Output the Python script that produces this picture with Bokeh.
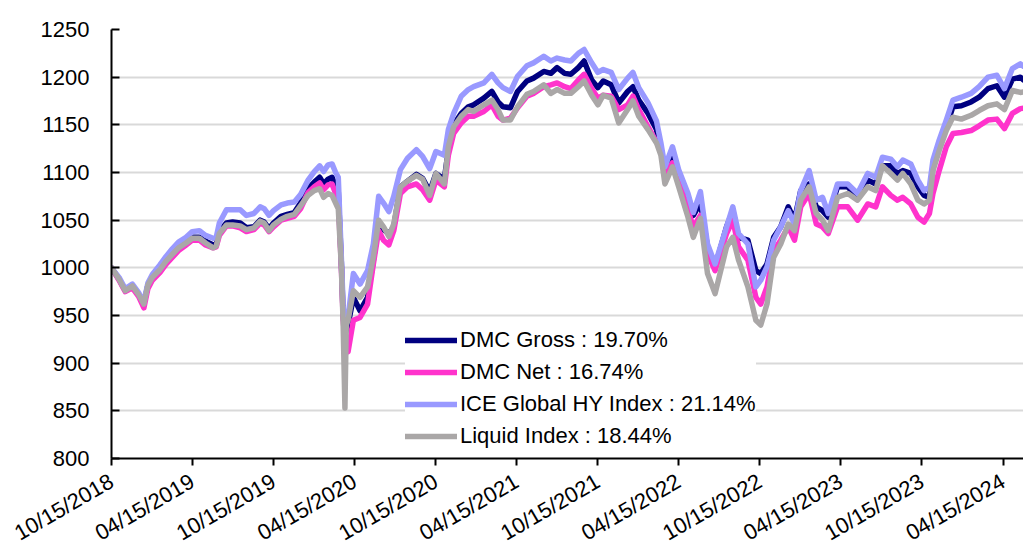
import math
import pandas as pd
from bokeh.plotting import figure
from bokeh.models import FixedTicker, Legend, LegendItem, Range1d
from bokeh.embed import file_html
from bokeh.resources import INLINE

dates = [
    "2018-10-15", "2018-11-01", "2018-11-15", "2018-12-01", "2018-12-15", "2018-12-27",
    "2019-01-05", "2019-01-15", "2019-02-01", "2019-02-15", "2019-03-01", "2019-03-15",
    "2019-04-01", "2019-04-15", "2019-05-01", "2019-05-15", "2019-06-01", "2019-06-08",
    "2019-06-15", "2019-07-01", "2019-07-15", "2019-08-01", "2019-08-15", "2019-09-01",
    "2019-09-15", "2019-09-24", "2019-10-05", "2019-10-15", "2019-11-01", "2019-11-15",
    "2019-12-01", "2019-12-15", "2020-01-01", "2020-01-15", "2020-01-27", "2020-02-05",
    "2020-02-15", "2020-02-24", "2020-03-03", "2020-03-09", "2020-03-16", "2020-03-20",
    "2020-03-24", "2020-03-27", "2020-03-31", "2020-04-12", "2020-04-27", "2020-05-14",
    "2020-05-27", "2020-06-08", "2020-06-19", "2020-07-01", "2020-07-12", "2020-07-27",
    "2020-08-12", "2020-09-01", "2020-09-15", "2020-10-01", "2020-10-15", "2020-11-03",
    "2020-11-12", "2020-11-24", "2020-12-11", "2020-12-27", "2021-01-08", "2021-01-31",
    "2021-02-18", "2021-03-04", "2021-03-15", "2021-04-01", "2021-04-17", "2021-05-08",
    "2021-05-23", "2021-06-15", "2021-07-01", "2021-07-15", "2021-08-01", "2021-08-15",
    "2021-09-01", "2021-09-14", "2021-10-01", "2021-10-15", "2021-10-27", "2021-11-14",
    "2021-12-01", "2021-12-21", "2022-01-02", "2022-01-15", "2022-02-05", "2022-02-24",
    "2022-03-06", "2022-03-15", "2022-04-01", "2022-04-15", "2022-05-06", "2022-05-18",
    "2022-06-03", "2022-06-19", "2022-07-06", "2022-08-01", "2022-08-15", "2022-08-28",
    "2022-09-18", "2022-10-06", "2022-10-17", "2022-10-31", "2022-11-15", "2022-12-01",
    "2022-12-18", "2023-01-01", "2023-01-15", "2023-02-03", "2023-02-19", "2023-03-05",
    "2023-03-18", "2023-04-08", "2023-05-01", "2023-05-23", "2023-06-15", "2023-07-03",
    "2023-07-18", "2023-08-06", "2023-08-21", "2023-09-02", "2023-09-20", "2023-10-06",
    "2023-10-20", "2023-11-01", "2023-11-09", "2023-11-23", "2023-12-09", "2023-12-24",
    "2024-01-12", "2024-02-03", "2024-02-21", "2024-03-12", "2024-04-01", "2024-04-18",
    "2024-05-06", "2024-05-24", "2024-05-31",
]

dmc_gross = [
    1000, 988, 976, 981, 972, 962, 982, 990, 998, 1007, 1015, 1021,
    1027, 1032, 1032, 1028, 1024, 1025, 1038, 1047, 1048, 1047, 1042, 1043,
    1050, 1048, 1041, 1047, 1054, 1056, 1058, 1068, 1083, 1090, 1095, 1088,
    1093, 1095, 1085, 1080, 1005, 950, 930, 935, 940, 969, 955, 969,
    1008, 1046, 1040, 1036, 1043, 1085, 1091, 1098, 1094, 1080, 1099, 1093,
    1124, 1150, 1162, 1169, 1171, 1178, 1185, 1174, 1169, 1168, 1185, 1196,
    1199, 1206, 1204, 1210, 1204, 1203, 1210, 1217, 1197, 1189, 1196, 1192,
    1173, 1185, 1190, 1176, 1162, 1145, 1124, 1103, 1120, 1096, 1075, 1055,
    1068, 1022, 1001, 1043, 1060, 1032, 1029, 997, 994, 1004, 1032, 1043,
    1064, 1050, 1081, 1088, 1064, 1060, 1053, 1085, 1085, 1074, 1092, 1088,
    1107, 1107, 1099, 1102, 1099, 1085, 1076, 1074, 1106, 1127, 1148, 1169,
    1170, 1174, 1179, 1188, 1191, 1179, 1198, 1200, 1197.0,
]

dmc_net = [
    1000, 987, 975, 979, 970, 958, 978, 987, 995, 1004, 1011, 1018,
    1024, 1029, 1029, 1024, 1021, 1022, 1034, 1044, 1044, 1042, 1038, 1040,
    1047, 1045, 1038, 1043, 1050, 1052, 1054, 1062, 1079, 1085, 1089, 1082,
    1087, 1088, 1078, 1073, 1000, 945, 925, 915, 912, 945, 948, 962,
    1004, 1039, 1029, 1024, 1039, 1078, 1085, 1088, 1082, 1071, 1092, 1085,
    1118, 1141, 1152, 1159, 1159, 1164, 1171, 1159, 1155, 1157, 1168, 1180,
    1183, 1190, 1192, 1194, 1190, 1188, 1197, 1203, 1188, 1178, 1181, 1180,
    1166, 1171, 1180, 1166, 1148, 1132, 1125, 1099, 1110, 1092, 1060, 1043,
    1055, 1015, 997, 1036, 1050, 1022, 1008, 969, 962, 980, 1018, 1029,
    1043, 1029, 1064, 1078, 1046, 1043, 1036, 1064, 1064, 1050, 1067, 1064,
    1085, 1076, 1071, 1074, 1067, 1053, 1048, 1057, 1078, 1102, 1127, 1141,
    1142, 1144, 1149, 1155, 1156, 1146, 1162, 1167, 1167.4,
]

ice_global_hy = [
    1000, 990, 978, 983, 974, 964, 984, 993, 1003, 1012, 1020, 1027,
    1032, 1038, 1039, 1034, 1031, 1032, 1047, 1061, 1061, 1061, 1055, 1057,
    1064, 1062, 1055, 1060, 1066, 1068, 1069, 1077, 1092, 1101, 1107, 1101,
    1108, 1109, 1100, 1095, 1010, 960, 935, 942, 948, 994, 983, 997,
    1025, 1075, 1068, 1059, 1075, 1103, 1115, 1124, 1117, 1104, 1122, 1118,
    1145, 1162, 1180, 1187, 1190, 1194, 1203, 1194, 1189, 1185, 1201, 1212,
    1215, 1222, 1217, 1220, 1218, 1217, 1225, 1229, 1215, 1205, 1208, 1205,
    1187, 1199, 1205, 1189, 1173, 1154, 1131, 1106, 1127, 1103, 1078, 1058,
    1080, 1025, 1004, 1043, 1064, 1036, 1025, 980, 987, 1001, 1029, 1043,
    1060, 1046, 1081, 1102, 1071, 1074, 1057, 1088, 1088, 1078, 1099, 1095,
    1116, 1114, 1106, 1113, 1109, 1092, 1081, 1085, 1113, 1134, 1155, 1176,
    1179, 1183, 1190, 1200, 1202, 1188, 1209, 1214, 1211.4,
]

liquid_index = [
    1000, 988, 976, 981, 972, 962, 982, 990, 998, 1007, 1014, 1021,
    1026, 1031, 1031, 1026, 1021, 1023, 1036, 1045, 1045, 1044, 1040, 1042,
    1049, 1047, 1039, 1045, 1051, 1054, 1056, 1065, 1076, 1081, 1083, 1074,
    1078, 1076, 1068, 1062, 1000, 940, 853, 940, 945, 976, 969, 980,
    1011, 1050, 1043, 1033, 1046, 1085, 1091, 1097, 1093, 1076, 1099, 1088,
    1127, 1148, 1159, 1166, 1164, 1171, 1176, 1166, 1155, 1155, 1169, 1182,
    1185, 1192, 1183, 1187, 1183, 1183, 1190, 1196, 1181, 1171, 1181, 1178,
    1152, 1166, 1175, 1159, 1145, 1131, 1118, 1088, 1106, 1085, 1053, 1032,
    1052, 994, 973, 1022, 1032, 1008, 980, 945, 940, 962, 1011, 1025,
    1046, 1039, 1071, 1085, 1057, 1050, 1039, 1074, 1078, 1071, 1085, 1081,
    1107, 1099, 1092, 1099, 1088, 1071, 1067, 1071, 1102, 1123, 1144, 1158,
    1156, 1160, 1165, 1170, 1172, 1166, 1186, 1184, 1184.4,
]

series_names = [
    "DMC Gross : 19.70%",
    "DMC Net : 16.74%",
    "ICE Global HY Index : 21.14%",
    "Liquid Index : 18.44%",
]
series_colors = ["#000080", "#FF33CC", "#9999FF", "#AAA7A7"]

tick_labels = [
    "10/15/2018", "04/15/2019", "10/15/2019", "04/15/2020", "10/15/2020", "04/15/2021",
    "10/15/2021", "04/15/2022", "10/15/2022", "04/15/2023", "10/15/2023", "04/15/2024",
]
y_ticks = [800, 850, 900, 950, 1000, 1050, 1100, 1150, 1200, 1250]

FONT = "Liberation Sans"
FONT_SIZE = "22px"

x = pd.to_datetime(dates)
tick_dt = pd.to_datetime(tick_labels, format="%m/%d/%Y")
tick_ms = [float(t.value // 10**6) for t in tick_dt]

p = figure(
    width=1023, height=560,
    x_axis_type="datetime",
    output_backend="svg",
    toolbar_location=None,
    min_border_left=111, min_border_right=0,
    min_border_top=29, min_border_bottom=102,
)
p.x_range = Range1d(x[0], pd.Timestamp("2024-05-31"))
p.y_range = Range1d(800, 1250)
p.outline_line_color = None
p.background_fill_color = "white"
p.border_fill_color = "white"

renderers = []
for vals, color in zip([dmc_gross, dmc_net, ice_global_hy, liquid_index], series_colors):
    r = p.line(x, vals, line_color=color, line_width=5.5,
               line_join="round", line_cap="round")
    renderers.append(r)

# axes
p.xaxis.ticker = FixedTicker(ticks=tick_ms)
p.xaxis.major_label_overrides = {t: lbl for t, lbl in zip(tick_ms, tick_labels)}
p.xaxis.major_label_orientation = math.pi / 6
p.xaxis.major_tick_in = 0
p.xaxis.major_tick_out = 7
p.xaxis.minor_tick_line_color = None
p.xaxis.major_label_standoff = 14

p.yaxis.ticker = FixedTicker(ticks=y_ticks)
p.yaxis.major_tick_in = 8
p.yaxis.major_tick_out = 0
p.yaxis.minor_tick_line_color = None
p.yaxis.major_label_standoff = 22

for ax in (p.xaxis, p.yaxis):
    ax.axis_line_color = "black"
    ax.axis_line_width = 2
    ax.major_tick_line_color = "black"
    ax.major_tick_line_width = 2
    ax.major_label_text_font = FONT
    ax.major_label_text_font_size = FONT_SIZE
    ax.major_label_text_color = "black"

p.xgrid.grid_line_color = None
p.ygrid.grid_line_color = "#D9D9D9"
p.ygrid.grid_line_width = 2

legend = Legend(
    items=[LegendItem(label=n, renderers=[r]) for n, r in zip(series_names, renderers)],
    location=(294, 8),
    padding=3, spacing=4, margin=0,
    glyph_width=52, glyph_height=28, label_height=28, label_standoff=3,
    label_text_font=FONT, label_text_font_size=FONT_SIZE, label_text_color="black",
    background_fill_color="white", background_fill_alpha=1.0,
    border_line_color=None,
)
p.add_layout(legend)

open("out.html", "w").write(file_html(p, INLINE))
